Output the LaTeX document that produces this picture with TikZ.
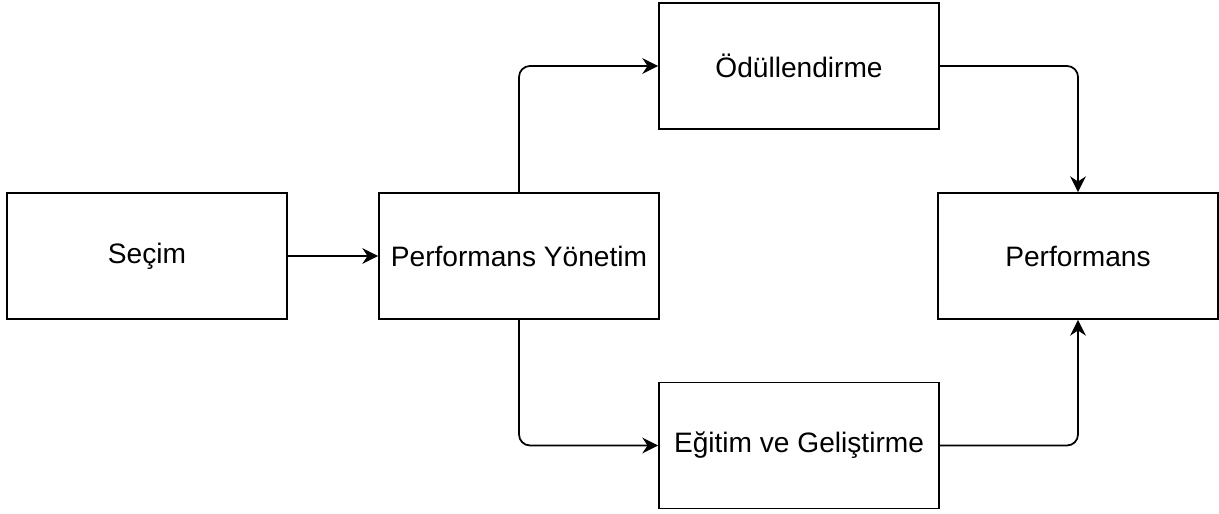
\documentclass[tikz,border=0pt]{standalone}
\usepackage{fontspec}
\setmainfont{Liberation Sans}
\usepackage{tikz}
\usetikzlibrary{arrows.meta,positioning}

\begin{document}
\begin{tikzpicture}[x=1cm,y=1cm,
  box/.style={draw=black, fill=white, line width=1pt,
              minimum width=5.6cm, minimum height=2.52cm, align=center,
              inner sep=1pt, font=\fontsize{16}{19}\selectfont},
  arr/.style={-{Stealth[length=9pt,width=9pt,inset=3pt]}, line width=1pt, rounded corners=0.22cm}
]
\useasboundingbox (0,0) rectangle (24.38,10.28);
\node[box] (secim)  at ( 2.94, 5.16) {Seçim};
\node[box] (pyon)   at (10.38, 5.16) {Performans Yönetim};
\node[box] (odul)   at (15.98, 8.96) {Ödüllendirme};
\node[box] (egitim) at (15.98, 1.37) {Eğitim ve Geliştirme};
\node[box] (perf)   at (21.56, 5.16) {Performans};

\draw[arr] (secim) -- (pyon);
\draw[arr] (pyon.north) |- (odul.west);
\draw[arr] (pyon.south) |- (egitim.west);
\draw[arr] (odul.east) -| (perf.north);
\draw[arr] (egitim.east) -| (perf.south);
\end{tikzpicture}
\end{document}
